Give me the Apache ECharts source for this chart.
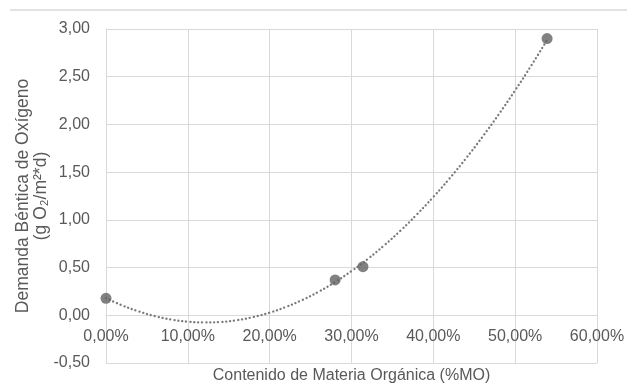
<!DOCTYPE html>
<html>
<head>
<meta charset="utf-8">
<script src="https://cdn.jsdelivr.net/npm/echarts@6/dist/echarts.min.js"></script>
<style>
html,body{margin:0;padding:0;background:#fff;}
#chart{width:627px;height:384px;}
</style>
</head>
<body>
<div id="chart"></div>
<script>
// Measured points (fraction of organic matter, oxygen demand)
const pointX = [0.000, 0.280, 0.314, 0.539];
const pointY = [0.178, 0.370, 0.509, 2.900];

// Polynomial trendline
const trendX = [0.00,0.02,0.04,0.06,0.08,0.10,0.12,0.14,0.16,0.18,0.20,0.22,0.24,0.26,0.28,0.30,0.32,0.34,0.36,0.38,0.40,0.42,0.44,0.46,0.48,0.50,0.52,0.54];
const trendY = [0.180,0.103,0.041,-0.009,-0.045,-0.067,-0.075,-0.070,-0.051,-0.018,0.028,0.088,0.161,0.248,0.349,0.464,0.591,0.733,0.888,1.058,1.240,1.436,1.646,1.870,2.107,2.358,2.622,2.900];

const xTitle = 'Contenido de Materia Orgánica (%MO)';
const yTitle = 'Demanda Béntica de Oxígeno\n(g O₂/m²*d)';

const textColor = '#595959';
const gridColor = '#d9d9d9';
const font = '"Liberation Sans", Arial, sans-serif';

const chart = echarts.init(document.getElementById('chart'), null, {renderer: 'canvas'});
chart.setOption({
  animation: false,
  backgroundColor: '#fff',
  grid: {left: 106, right: 30, top: 29, bottom: 21, containLabel: false, outerBoundsMode: 'none'},
  graphic: [{
    type: 'line',
    shape: {x1: 10, y1: 10, x2: 627, y2: 10},
    style: {stroke: gridColor, lineWidth: 1.5}
  }],
  xAxis: {
    type: 'value',
    min: 0, max: 0.6, interval: 0.1,
    offset: -47.7,
    name: xTitle,
    nameLocation: 'middle',
    nameGap: 52,
    nameMoveOverlap: false,
    nameTextStyle: {color: textColor, fontSize: 16, fontFamily: font},
    axisLine: {show: true, onZero: false, lineStyle: {color: gridColor, width: 1}},
    axisTick: {show: false},
    axisLabel: {
      color: textColor, fontSize: 16, fontFamily: font, margin: 13,
      formatter: v => (v * 100).toFixed(2).replace('.', ',') + '%'
    },
    splitLine: {show: true, lineStyle: {color: gridColor, width: 1}}
  },
  yAxis: {
    type: 'value',
    min: -0.5, max: 3, interval: 0.5,
    name: yTitle,
    nameLocation: 'middle',
    nameGap: 56,
    nameMoveOverlap: false,
    nameTextStyle: {color: textColor, fontSize: 17.5, fontFamily: font, lineHeight: 18, align: 'center'},
    axisLine: {show: true, onZero: false, lineStyle: {color: gridColor, width: 1}},
    axisTick: {show: false},
    axisLabel: {
      color: textColor, fontSize: 16, fontFamily: font, margin: 16,
      formatter: v => v.toFixed(2).replace('.', ',')
    },
    splitLine: {show: true, lineStyle: {color: gridColor, width: 1}}
  },
  series: [
    {
      type: 'line',
      data: trendX.map((x, i) => [x, trendY[i]]),
      smooth: true,
      showSymbol: false,
      silent: true,
      lineStyle: {color: '#7a7a7a', width: 2.3, type: [0.1, 3.9], cap: 'round'},
      z: 2
    },
    {
      type: 'scatter',
      data: pointX.map((x, i) => [x, pointY[i]]),
      symbol: 'circle',
      symbolSize: 11,
      itemStyle: {color: '#616161'},
      z: 3
    }
  ]
});
</script>
</body>
</html>
